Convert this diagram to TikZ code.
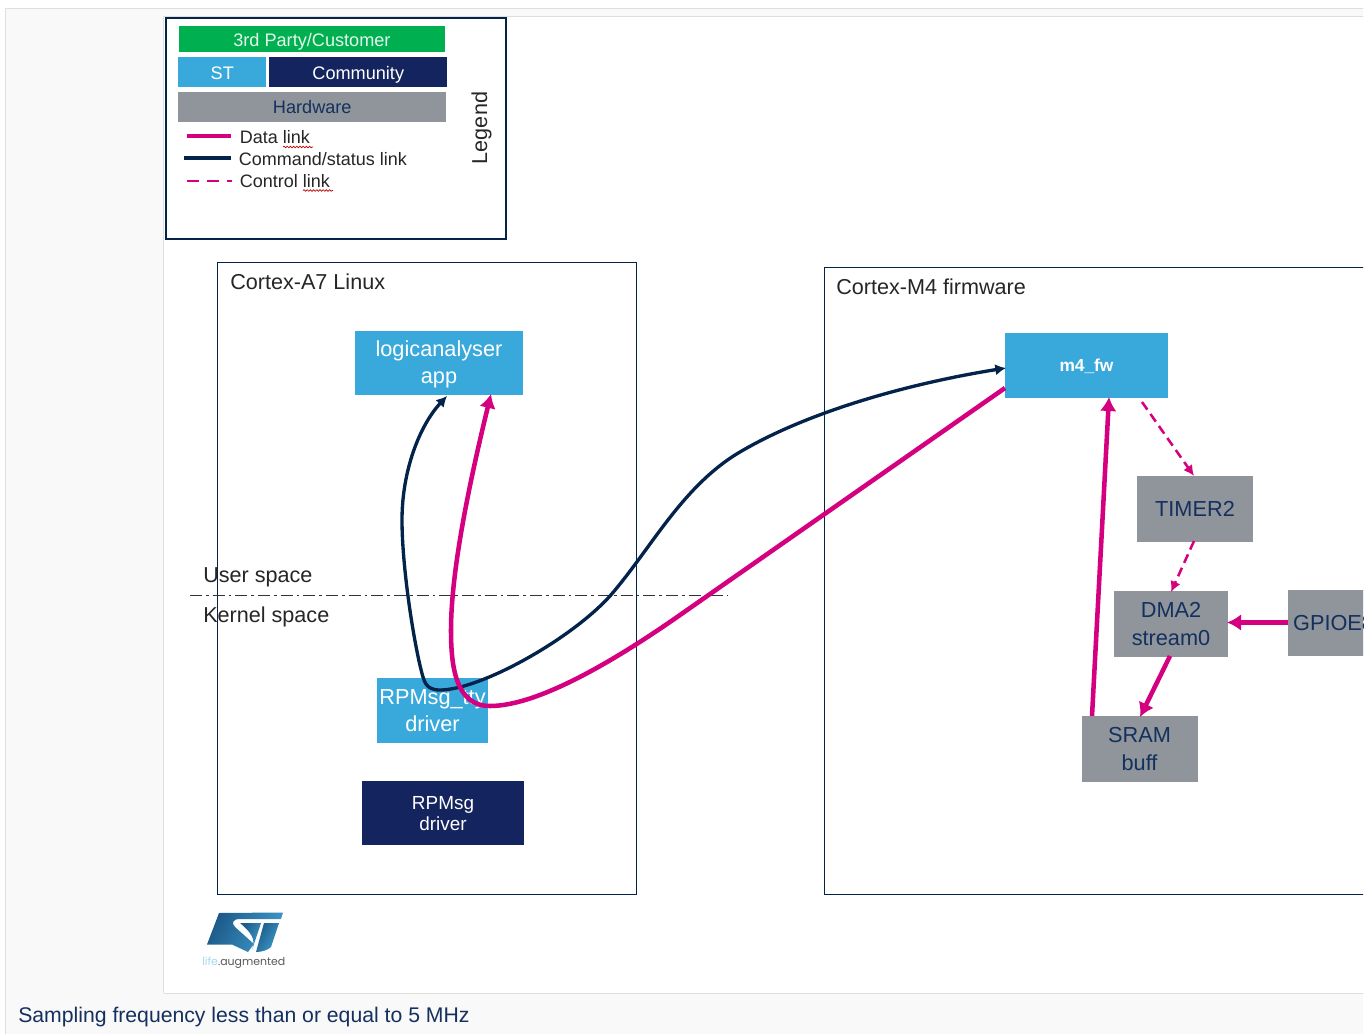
\documentclass[tikz,border=0pt]{standalone}
\usepackage{fontspec}
\setmainfont{Liberation Sans}
\newfontfamily\logofont{Poppins}
\usetikzlibrary{arrows.meta,decorations.pathmorphing}
\definecolor{stblue}{HTML}{39A9DC}
\definecolor{navy}{HTML}{03234B}
\definecolor{cmnavy}{HTML}{14245E}
\definecolor{hwgray}{HTML}{8F959A}
\definecolor{stgreen}{HTML}{00B050}
\definecolor{mag}{HTML}{D4007F}
\definecolor{panel}{HTML}{F9F9F9}
\definecolor{edge}{HTML}{DEDEDE}
\definecolor{txtnavy}{HTML}{14305E}
\definecolor{logodark}{HTML}{1C5A8A}
\definecolor{logolight}{HTML}{3F9BC9}
\tikzset{
 box/.style={draw=none,inner sep=0pt,align=center,font=\fontsize{16.3}{20.3}\selectfont},
 stbox/.style={box,fill=stblue,text=white},
 hwbox/.style={box,fill=hwgray,text=txtnavy},
 cmbox/.style={box,fill=cmnavy,text=white},
 legbox/.style={anchor=north west,font=\fontsize{13.6}{16}\selectfont,text height=10.2pt,text depth=0pt},
 lab/.style={inner sep=0pt,anchor=west,text=black!85,font=\fontsize{16.2}{20}\selectfont},
 leg/.style={inner sep=0pt,anchor=west,text=black!85,font=\fontsize{13.5}{16}\selectfont},
 corebox/.style={draw=navy,line width=0.75pt},
 datalink/.style={draw=mag,line width=3.4pt,-{Latex[length=10.5pt,width=12.5pt]}},
 cmdlink/.style={draw=navy,line width=2.5pt,{Latex[length=8pt,width=8.5pt]}-{Latex[length=8pt,width=8.5pt]}},
 ctrllink/.style={draw=mag,line width=1.9pt,dash pattern=on 7pt off 4pt,-{Latex[length=8pt,width=8pt]}},
 squiggle/.style={draw=red!75!black,line width=0.5pt,decorate,decoration={snake,amplitude=0.6pt,segment length=2.4pt}},
 logopart/.style={left color=logodark,right color=logolight,shading angle=60},
}
\begin{document}
\begin{tikzpicture}[x=0.75pt,y=-0.75pt]
\useasboundingbox (0,0) rectangle (1370,1034);
\fill[white] (0,0) rectangle (1370,1034);
\begin{scope}
\clip (0,0) rectangle (1363,1034);
% page frame
\fill[panel] (6,9) rectangle (1370,1034);
\draw[edge,line width=0.9pt] (5.5,1034) -- (5.5,8.5) -- (1370,8.5);
\fill[white] (164,17) rectangle (1370,993);
\draw[edge,line width=0.9pt] (163.5,993) -- (163.5,16.5) -- (1370,16.5);
\draw[edge,line width=0.9pt] (163.5,993.5) -- (1370,993.5);
% legend
\node[draw=navy,line width=1.6pt,minimum width=254.6pt,minimum height=165.2pt,inner sep=0pt,anchor=north west] (legendbox) at (165.3,17.3) {};
\node[box,fill=stgreen,text=white!90!stgreen,minimum width=199pt,minimum height=19.5pt,legbox] (third) at (179,26) {3rd Party/Customer};
\node[stbox,minimum width=66pt,minimum height=22.5pt,legbox] (st) at (178,57) {ST};
\node[cmbox,minimum width=133.5pt,minimum height=22.5pt,legbox] (community) at (269,57) {Community};
\node[hwbox,minimum width=201pt,minimum height=22.5pt,legbox,text height=9.5pt] (hardware) at (178,92) {Hardware};
\coordinate (l1a) at (187,136); \coordinate (l1b) at (231,136);
\coordinate (l2a) at (184,158); \coordinate (l2b) at (231,158);
\coordinate (l3a) at (187,181); \coordinate (l3b) at (232,181);
\draw[mag,line width=3.2pt] (l1a) -- (l1b);
\draw[navy,line width=2.5pt] (l2a) -- (l2b);
\draw[mag,line width=1.8pt,dash pattern=on 9pt off 6pt] (l3a) -- (l3b);
\node[leg] (t1) at (239.5,137.5) {Data link};
\node[leg] (t2) at (238.5,159.5) {Command/status link};
\node[leg] (t3) at (239.5,181.5) {Control link};
\coordinate (sq1a) at (283,147); \coordinate (sq1b) at (313,147);
\coordinate (sq2a) at (303,190.5); \coordinate (sq2b) at (333,190.5);
\path[squiggle] (sq1a) -- (sq1b);
\path[squiggle] (sq2a) -- (sq2b);
\node[inner sep=0pt,rotate=90,text=black!85,font=\fontsize{16.2}{20}\selectfont] (legendt) at (481.5,128) {Legend};
% cores
\draw[corebox] (217.5,263) rectangle (636.5,894);
\draw[corebox] (824,268) rectangle (1420,894);
\node[lab] (a7) at (230,282) {Cortex-A7 Linux};
\node[lab] (m4) at (836,287) {Cortex-M4 firmware};
% space separator
\coordinate (sepa) at (190,595.5); \coordinate (sepb) at (728,595.5);
\draw[black!80,line width=0.75pt,dash pattern=on 9pt off 3pt on 2pt off 3pt] (sepa) -- (sepb);
\node[lab] (user) at (203,577.5) {User space};
\node[lab] (kernel) at (203,617) {Kernel space};
% boxes
\node[stbox,minimum width=125.5pt,minimum height=48pt] (app) at (439,362.5) {\rule{0pt}{15pt}logicanalyser\\app};
\node[stbox,minimum width=83pt,minimum height=49pt] (tty) at (432.5,710.5) {RPMsg\_tty\\driver};
\node[cmbox,minimum width=121.5pt,minimum height=48pt,font=\fontsize{14.2}{15.5}\selectfont] (rpmsg) at (443,812.5) {\rule{0pt}{11.2pt}RPMsg\\driver};
\node[stbox,minimum width=122.5pt,minimum height=49pt,font=\bfseries\fontsize{13}{16}\selectfont] (fw) at (1086.5,365.5) {\rule{0pt}{11pt}m4\_fw};
\node[hwbox,minimum width=87pt,minimum height=49.5pt] (timer) at (1195,508.5) {TIMER2};
\node[hwbox,minimum width=85.5pt,minimum height=49.5pt] (dma) at (1171,624) {DMA2\\stream0};
\node[hwbox,minimum width=87pt,minimum height=49.5pt] (sram) at (1139.5,749) {SRAM\\buff};
\node[hwbox,minimum height=49.5pt,anchor=west,text width=116pt,align=left] (gpio) at (1287.5,623) {\hspace*{4pt}GPIOE8};
% connectors
\coordinate (appa) at (447,396);
\coordinate (fwin) at (1006,368);
\draw[cmdlink] (appa) .. controls (420,425) and (402,470) .. (402,520)
 .. controls (402,570) and (415,650) .. (423,677)
 .. controls (426,688) and (432,690) .. (440,690)
 .. controls (480,690) and (570,640) .. (610,596)
 .. controls (650,550) and (680,490) .. (735,455)
 .. controls (800,415) and (900,385) .. (fwin);
\coordinate (fwout) at (1005,388);
\coordinate (appb) at (491,394);
\draw[datalink] (fwout) -- (680,615)
 .. controls (620,657) and (540,706) .. (490,706)
 .. controls (455,706) and (451,665) .. (451,630)
 .. controls (451,570) and (470,480) .. (appb);
\coordinate (srama) at (1092,716); \coordinate (fwb) at (1109,397);
\draw[datalink] (srama) -- (fwb);
\coordinate (dmab) at (1170,656); \coordinate (sramb) at (1140,717);
\draw[datalink] (dmab) -- (sramb);
\coordinate (gpiol) at (1288,622.5); \coordinate (dmar) at (1227,622.5);
\draw[datalink] (gpiol) -- (dmar);
\coordinate (fwc) at (1142,402); \coordinate (timt) at (1194,476);
\draw[ctrllink] (fwc) -- (timt);
\coordinate (timb) at (1194,541); \coordinate (dmat) at (1171,592);
\draw[ctrllink] (timb) -- (dmat);
% logo
\shade[logopart] (219,913) -- (283,912.5) -- (281,919) -- (240,919) .. controls (233,919) and (231,923) .. (235,927) -- (254,944) -- (248,952) -- (232,944.5) -- (207,944.5) -- cycle;
\shade[logopart] (240,923) -- (261,923) -- (252,950) .. controls (256,940) and (252,933) .. (240,923) -- cycle;
\shade[logopart] (264,923) -- (279,923) -- (271,947) .. controls (268,950) and (262,952) .. (256,952) -- cycle;
\node[inner sep=0pt,anchor=west,font=\logofont\fontsize{8.2}{10}\selectfont,text=black!65] (tag) at (202,963) {\textcolor{stblue!45}{life}.augmented};
% caption
\node[inner sep=0pt,anchor=west,text=txtnavy,font=\fontsize{15.9}{18}\selectfont] (cap) at (18,1017) {Sampling frequency less than or equal to 5 MHz};
\end{scope}
\end{tikzpicture}
\end{document}
